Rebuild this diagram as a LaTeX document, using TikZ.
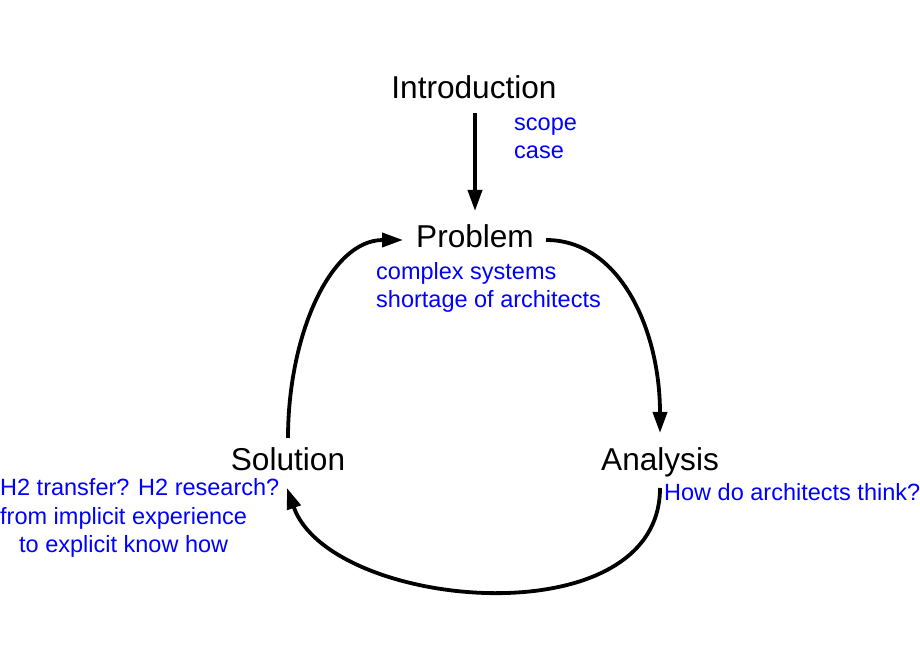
\documentclass[tikz,border=0pt]{standalone}
\usepackage{fontspec}
\setmainfont{Liberation Sans}
\usetikzlibrary{arrows.meta,calc}
\tikzset{
  title/.style={inner sep=0pt, anchor=base, font=\fontsize{31.6}{37}\selectfont, text=black},
  note/.style={inner sep=0pt, anchor=base west, align=left, font=\fontsize{23.5}{28.5}\selectfont, text=blue},
  arr/.style={line width=3.8pt, -{Triangle[length=21pt,width=14pt]}}
}
\begin{document}
\begin{tikzpicture}[x=1pt,y=1pt]
\useasboundingbox (0,0) rectangle (920,660);
\node[title] (intro) at (474,561) {Introduction};
\node[note] (introN) at (514,501) {scope\\case};
\node[title] (prob) at (475,412) {Problem};
\node[note] (probN) at (376,352) {complex systems\\shortage of architects};
\node[title] (sol) at (288,189) {Solution};
\node[note] (solN) at (0,107) {H2 transfer? H2 research?\\from implicit experience\\\hspace*{19pt}to explicit know how};
\node[title] (ana) at (660,189) {Analysis};
\node[note] (anaN) at (664,159) {How do architects think?};
\draw[arr] ($(intro.base)+(1,-14)$) -- ($(prob.base)+(0,37)$);
\draw[arr] ($(prob.base)+(71,8)$) .. controls ($(prob.base)+(145,8)$) and ($(ana.base)+(0,141)$) .. ($(ana.base)+(0,38)$);
\draw[arr] ($(ana.base)+(0,-17)$) .. controls ($(ana.base)+(0,-169)$) and ($(sol.base)+(42,-139)$) .. ($(sol.base)+(-1,-17)$);
\draw[arr] ($(sol.base)+(0,33)$) .. controls ($(sol.base)+(0,135)$) and ($(prob.base)+(-145,8)$) .. ($(prob.base)+(-72,8)$);
\end{tikzpicture}
\end{document}
